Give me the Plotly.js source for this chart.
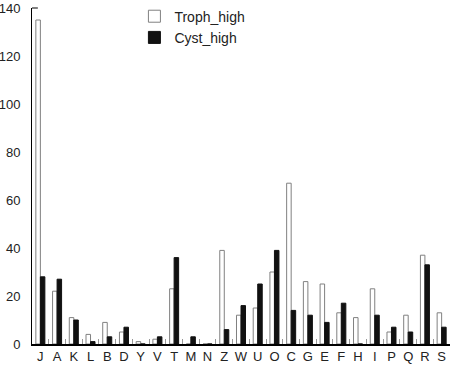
<!DOCTYPE html>
<html>
<head>
<meta charset="utf-8">
<script src="https://cdn.plot.ly/plotly-3.0.1.min.js"></script>
<style>html,body{margin:0;padding:0;background:#fff;}#chart{width:451px;height:366px;}</style>
</head>
<body>
<div id="chart"></div>
<script>
const categories = ["J","A","K","L","B","D","Y","V","T","M","N","Z","W","U","O","C","G","E","F","H","I","P","Q","R","S"];
const trophHigh = [135,22,11,4,9,5,1,2,23,0,0,39,12,15,30,67,26,25,13,11,23,5,12,37,13];
const cystHigh  = [28,27,10,1,3,7,0,3,36,3,0,6,16,25,39,14,12,9,17,0,12,7,5,33,7];
const yTicks = [0,20,40,60,80,100,120,140];

const data = [
  {type:'bar', name:'Troph_high', x:categories, y:trophHigh,
   marker:{color:'#ffffff', line:{color:'#808080', width:1}}},
  {type:'bar', name:'Cyst_high', x:categories, y:cystHigh,
   marker:{color:'#111111', line:{color:'#111111', width:1}}}
];
const layout = {
  width:451, height:366,
  margin:{l:32, r:1, t:8, b:22, pad:0},
  paper_bgcolor:'#fff', plot_bgcolor:'#fff',
  font:{family:'"Liberation Sans", Arial, sans-serif', size:13, color:'#222'},
  barmode:'group', bargap:0.46, bargroupgap:0,
  showlegend:true,
  legend:{x:0.245, y:1.022, xanchor:'left', yanchor:'top', bgcolor:'rgba(0,0,0,0)',
          font:{size:14, color:'#222'}, tracegroupgap:0, itemwidth:30},
  xaxis:{type:'category', showline:true, linecolor:'#000', linewidth:1.5,
         ticks:'inside', tickson:'boundaries', ticklen:5, tickcolor:'#999', tickwidth:1,
         showgrid:false, zeroline:false, tickangle:0, tickfont:{size:13}},
  yaxis:{range:[0,140], tickvals:yTicks, ticktext:yTicks.map(String),
         showline:true, linecolor:'#000', linewidth:1, ticks:'', showgrid:false,
         zeroline:false, ticklabelstandoff:8, tickfont:{size:13}},
  shapes:[{type:'line', xref:'paper', yref:'paper', x0:0, x1:0.014, y0:1, y1:1,
           line:{color:'#000', width:1}}]
};
Plotly.newPlot('chart', data, layout, {displayModeBar:false, staticPlot:true});
</script>
</body>
</html>
